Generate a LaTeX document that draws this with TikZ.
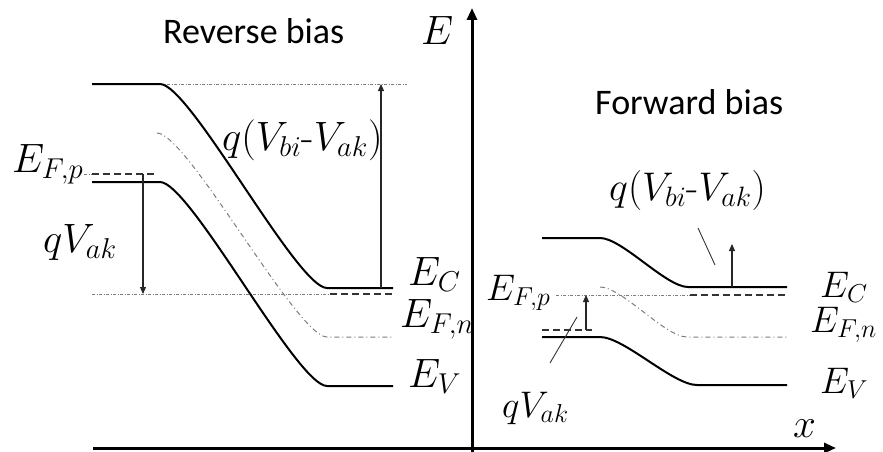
\RequirePackage{fix-cm}
\documentclass[tikz,border=0pt]{standalone}
\usepackage{amsmath}
\usepackage{fontspec}
\usepackage{tikz}
\usetikzlibrary{
	arrows.meta,
	calc,
	positioning
}
\newfontfamily\biasfont{Carlito}
\definecolor{LevelGray}{RGB}{125,125,125}

\begin{document}
\begin{tikzpicture}[x=1pt, y=-1pt,
		band/.style={line width=2pt, black},
		fermi/.style={line width=1.8pt, black!80, dash pattern=on 7pt off 4pt},
		guide/.style={line width=1pt, LevelGray, dash pattern=on 3pt off 1.5pt on 1pt off 1.5pt},
		intrinsic/.style={line width=1pt, LevelGray, dash pattern=on 5pt off 3pt on 1pt off 3pt},
		gap/.style={line width=1.1pt, black!85, -{Triangle[length=7pt,width=6pt]}},
		leader/.style={line width=0.9pt, black!80},
		lblL/.style={font=\fontsize{41}{48}\selectfont, inner sep=0pt, anchor=base west},
		lblR/.style={font=\fontsize{37}{44}\selectfont, inner sep=0pt, anchor=base west},
		title/.style={font=\biasfont\fontsize{36}{42}\selectfont, inner sep=0pt, anchor=base west}]
		\useasboundingbox (0,0) rectangle (883,452);
		
		% 坐标轴
		\coordinate (O1) at (472,452);
		\coordinate (Etop) at (472,8);
		\coordinate (X0) at (93,448);
		\coordinate (X1) at (836,448);
		\draw[line width=3pt, -{Triangle[length=12pt,width=10pt]}] (O1) -- (Etop);
		\draw[line width=3pt, -{Triangle[length=12pt,width=10pt]}] (X0) -- (X1);
		\node[lblL] (lE) at (421,45) {$E$};
		\node[lblL] (lx) at (793,437) {$x$};
		
		% 反向偏压
		\node[title] (rev) at (163,44) {Reverse bias};
		\coordinate (LC1) at (92,84);
		\coordinate (LC2) at (160,84);
		\coordinate (LC3) at (327,288);
		\coordinate (LC4) at (393,288);
		\coordinate (LV1) at (92,182);
		\coordinate (LV2) at (160,182);
		\coordinate (LV3) at (327,386);
		\coordinate (LV4) at (393,386);
		\coordinate (LI1) at (157,133);
		\coordinate (LI3) at (327,337);
		\coordinate (LI4) at (393,337);
		\coordinate (LFp1) at (92,174);
		\coordinate (LFp2) at (156,174);
		\coordinate (LFn0) at (92,294);
		\coordinate (LFn1) at (330,294);
		\coordinate (LFn2) at (393,294);
		\coordinate (LTop) at (407,84);
		
		\draw[guide] (LC2) -- (LTop);
		\draw[guide] (LFn0) -- (LFn1);
		\draw[intrinsic] (LI1) .. controls +(30,0) and +(-30,0) .. (LI3) -- (LI4);
		\draw[band] (LC1) -- (LC2) .. controls +(30,0) and +(-30,0) .. (LC3) -- (LC4);
		\draw[band] (LV1) -- (LV2) .. controls +(30,0) and +(-30,0) .. (LV3) -- (LV4);
		\draw[fermi] (LFp1) -- (LFp2);
		\draw[fermi] (LFn1) -- (LFn2);
		
		\coordinate (LA0) at (381,288);
		\coordinate (LA1) at (381,84);
		\draw[gap] (LA0) -- (LA1);
		\coordinate (LB0) at (143,174);
		\coordinate (LB1) at (143,294);
		\draw[gap] (LB0) -- (LB1);
		
		\node[lblL] (lbiL) at (222,150) {$q(V_{bi}\mbox{-}V_{ak})$};
		\node[lblL] (lEFpL) at (12,172) {$E_{F,p}$};
		\coordinate (LFpTag) at (84,174);
		\draw[guide] (LFpTag) -- (LFp1);
		\node[lblL] (lakL) at (43,252) {$qV_{ak}$};
		\node[lblL] (lECL) at (408,285) {$E_C$};
		\node[lblL] (lEFnL) at (400,327) {$E_{F,n}$};
		\node[lblL] (lEVL) at (408,387) {$E_V$};
		
		% 正向偏压
		\node[title] (fwd) at (595,114) {Forward bias};
		\coordinate (RC1) at (542,238);
		\coordinate (RC2) at (600,238);
		\coordinate (RC3) at (688,287);
		\coordinate (RC4) at (787,287);
		\coordinate (RV1) at (542,337);
		\coordinate (RV2) at (600,337);
		\coordinate (RV3) at (697,385);
		\coordinate (RV4) at (787,385);
		\coordinate (RI1) at (600,287);
		\coordinate (RI3) at (687,337);
		\coordinate (RI4) at (787,337);
		\coordinate (RFp1) at (542,330);
		\coordinate (RFp2) at (592,330);
		\coordinate (RFn0) at (556,295);
		\coordinate (RFn1) at (690,295);
		\coordinate (RFn2) at (787,295);
		
		\draw[guide] (RFn0) -- (RFn1);
		\draw[intrinsic] (RI1) .. controls +(22,0) and +(-22,0) .. (RI3) -- (RI4);
		\draw[band] (RC1) -- (RC2) .. controls +(22,0) and +(-22,0) .. (RC3) -- (RC4);
		\draw[band] (RV1) -- (RV2) .. controls +(24,0) and +(-24,0) .. (RV3) -- (RV4);
		\draw[fermi] (RFp1) -- (RFp2);
		\draw[fermi] (RFn1) -- (RFn2);
		
		\coordinate (RA0) at (732,287);
		\coordinate (RA1) at (732,244);
		\draw[gap] (RA0) -- (RA1);
		\coordinate (RB0) at (586,330);
		\coordinate (RB1) at (586,295);
		\draw[gap] (RB0) -- (RB1);
		
		\node[lblR, font=\fontsize{40}{46}\selectfont] (lbiR) at (609,200) {$q(V_{bi}\mbox{-}V_{ak})$};
		\coordinate (RLa0) at (715,265);
		\coordinate (RLa1) at (698,228);
		\draw[leader] (RLa0) -- (RLa1);
		\node[lblR] (lEFpR) at (486,300) {$E_{F,p}$};
		\node[lblR] (lakR) at (502,417) {$qV_{ak}$};
		\coordinate (RLb0) at (577,317);
		\coordinate (RLb1) at (550,363);
		\draw[leader] (RLb0) -- (RLb1);
		\node[lblR] (lECR) at (820,297) {$E_C$};
		\node[lblR] (lEFnR) at (810,332) {$E_{F,n}$};
		\node[lblR] (lEVR) at (820,393) {$E_V$};
	\end{tikzpicture}
\end{document}
